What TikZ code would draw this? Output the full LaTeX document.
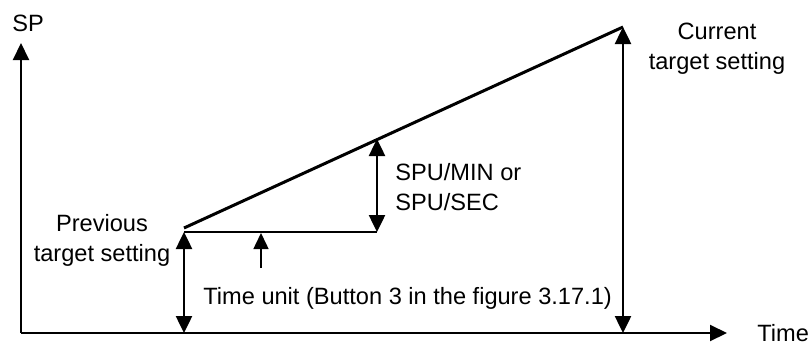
\documentclass[tikz,border=0pt]{standalone}
\usepackage{fontspec}
\setmainfont{Liberation Sans}
\usetikzlibrary{arrows.meta}

\begin{document}
\begin{tikzpicture}[x=0.5pt, y=-0.5pt,
  axis/.style={-{Triangle[length=8.5pt,width=8pt]}, line width=1pt},
  dim/.style={{Triangle[length=8.5pt,width=8pt]}-{Triangle[length=8.5pt,width=8pt]}, line width=1.25pt},
  ramp/.style={line width=1.5pt},
  level/.style={line width=0.9pt},
  pointer/.style={-{Triangle[length=8pt,width=7.5pt]}, line width=0.75pt},
  lab/.style={font=\fontsize{11.8}{14.75}\selectfont, inner sep=0pt}
]
  \useasboundingbox (0,0) rectangle (808,343);

  % axes
  \coordinate (o) at (21,333);
  \coordinate (ytop) at (21,43);
  \coordinate (xend) at (727,333);
  \draw[axis] (o) -- (ytop);
  \draw[axis] (o) -- (xend);

  % ramp and levels
  \coordinate (p0) at (184,228);
  \coordinate (p1) at (623,27);
  \coordinate (h0) at (184,232);
  \coordinate (h1) at (377,232);
  \coordinate (m) at (377,139);
  \coordinate (b0) at (184,333);
  \coordinate (b1) at (623,333);
  \coordinate (u0) at (261,268);
  \coordinate (u1) at (261,233);
  \draw[ramp] (p0) -- (p1);
  \draw[level] (h0) -- (h1);

  \draw[dim] (h0) -- (b0);
  \draw[dim] (m) -- (h1);
  \draw[dim] (p1) -- (b1);
  \draw[pointer] (u0) -- (u1);

  % labels
  \node[lab, anchor=base] (sp) at (28,31) {SP};
  \node[lab, anchor=base west] (time) at (757,341) {Time};
  \node[lab, align=center, anchor=north] (cur) at (717,23) {Current\\target setting};
  \node[lab, align=center, anchor=north] (prev) at (102,214) {Previous\\target setting};
  \node[lab, align=left, anchor=north west] (rate) at (395,163) {SPU/MIN or\\SPU/SEC};
  \node[lab, anchor=base west] (unit) at (203,304) {Time unit (Button 3 in the figure 3.17.1)};
\end{tikzpicture}
\end{document}
